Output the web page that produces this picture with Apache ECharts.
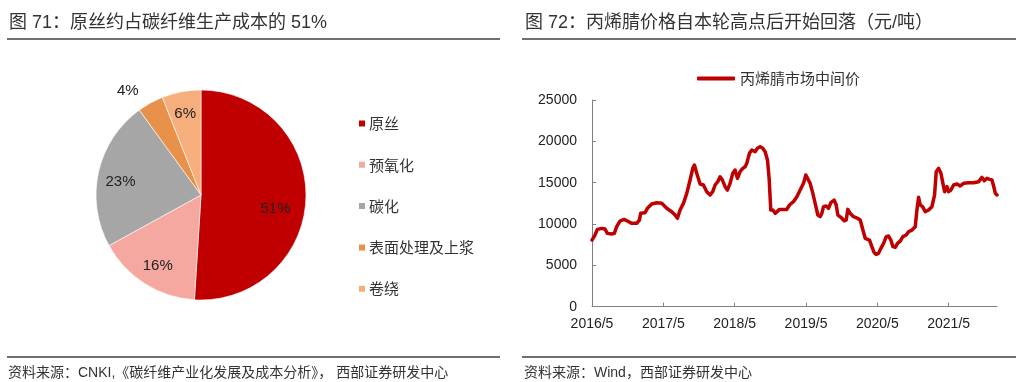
<!DOCTYPE html>
<html><head><meta charset="utf-8">
<script src="https://cdn.jsdelivr.net/npm/echarts@6/dist/echarts.min.js"></script>
<style>html,body{margin:0;padding:0;background:#fff}#c{width:1024px;height:382px}</style>
</head><body><div id="c"></div>
<script>
// ---- Left: pie data ----
const pieNames = ['原丝', '预氧化', '碳化', '表面处理及上浆', '卷绕'];
const pieValues = [51, 16, 23, 4, 6];
const pieColors = ['#C00000', '#F5A8A0', '#A6A6A6', '#E8914A', '#F7AE7D'];

// ---- Right: acrylonitrile price (months since 2016/5, 元/吨) ----
const months = [0,0.5,0.9,1.63,2.19,2.58,3.31,3.76,4.15,4.71,5.39,5.95,6.68,7.52,7.97,8.19,8.92,9.32,10.04,10.89,11.73,12.57,13.41,13.97,14.37,14.81,15.38,15.94,16.5,16.95,17.23,17.62,18.18,18.74,19.3,19.87,20.31,20.71,21.16,21.55,21.94,22.39,22.78,23.23,23.68,24.07,24.47,24.92,25.36,25.76,26.04,26.49,26.88,27.44,27.83,28.28,28.73,29.12,29.52,29.8,30.08,30.42,30.81,31.09,31.54,32.21,32.77,33.22,33.89,34.46,35.02,35.58,35.97,36.25,36.7,37.15,37.54,37.99,38.38,38.66,38.95,39.39,39.79,40.18,40.74,41.08,41.36,41.86,42.42,42.76,43.04,43.43,44.0,44.67,45.12,45.57,45.96,46.69,47.08,47.47,47.81,48.2,48.6,49.05,49.49,49.89,50.28,50.62,51.01,51.4,51.85,52.3,52.86,53.25,53.82,54.38,54.66,54.94,55.22,55.61,56.06,56.62,57.18,57.63,57.91,58.31,58.7,59.03,59.32,59.71,59.99,60.38,60.83,61.39,61.95,62.51,63.36,64.2,65.04,65.6,65.99,66.44,66.89,67.28,67.56,67.85,68.13];
const prices = [8060,8670,9350,9470,9400,8870,8790,8870,9680,10360,10560,10360,10080,10080,10480,11290,11370,11900,12420,12580,12500,11900,11490,11090,10690,11690,12500,13710,15320,16730,17140,16130,14840,14720,13910,13510,13910,14720,15120,15720,15320,14520,14110,14920,16130,16530,15520,16330,16730,16930,17350,18560,18960,18750,19160,19360,19160,18750,17750,15500,11690,11690,11290,11490,11770,11770,11770,12300,12700,13300,14110,14920,15930,16130,14920,13710,12500,11090,10890,11290,12100,12180,11900,12580,12900,12300,11090,10810,10400,10480,11770,11290,10890,10690,10480,9270,8270,8060,7260,6530,6330,6450,7060,7660,8470,8550,8060,7260,7180,7660,7940,8470,8670,9070,9270,9680,11690,13230,12300,12100,11490,11690,12100,13510,16330,16730,16130,14920,13910,14520,13910,14110,14720,14840,14600,14920,15000,15000,15120,15640,15240,15520,15400,15320,14600,13710,13510];
const xTickMonths = [0, 12, 24, 36, 48, 60];
const xTickLabels = ['2016/5', '2017/5', '2018/5', '2019/5', '2020/5', '2021/5'];
const lineName = '丙烯腈市场中间价';

const titleLeft = '图 71：原丝约占碳纤维生产成本的 51%';
const titleRight = '图 72：丙烯腈价格自本轮高点后开始回落（元/吨）';
const srcLeft = '资料来源：CNKI,《碳纤维产业化发展及成本分析》， 西部证券研发中心';
const srcRight = '资料来源：Wind，西部证券研发中心';

const FONT = "'Liberation Sans', 'Noto Sans CJK SC', sans-serif";
const CJK = "'Noto Sans CJK SC', 'Liberation Sans', sans-serif";

// label nudges (styling, px) for the percent labels, same order as pieNames
const labelNudge = [[-10, 11], [2, 0], [2, 5], [0, 0], [0, 2]];

const chart = echarts.init(document.getElementById('c'), null, {renderer: 'canvas'});

const pieData = pieNames.map((n, i) => ({
  name: n, value: pieValues[i], itemStyle: {color: pieColors[i]},
  label: (pieValues[i] < 5) ? {show: true, position: 'outside', formatter: '{c}%'} : {show: false},
  labelLine: {show: false, length: 14, length2: 0}
}));
const pieLabelData = pieNames.map((n, i) => ({
  name: n, value: pieValues[i],
  label: {show: pieValues[i] >= 5, offset: labelNudge[i]}
}));

const line = (x1, y1, x2, y2) => ({type: 'line', shape: {x1, y1, x2, y2}, style: {stroke: '#404040', lineWidth: 1.3}, silent: true});
const txt = (x, y, t, size) => ({type: 'text', x, y, style: {text: t, font: size + 'px ' + FONT, fill: '#333', textVerticalAlign: 'middle'}, silent: true});

chart.setOption({
  animation: false,
  backgroundColor: '#fff',
  graphic: [
    txt(9, 23, titleLeft, 18),
    txt(525, 23, titleRight, 18),
    line(7, 39, 500, 39),
    line(522, 39, 1016, 39),
    line(7, 357, 500, 357),
    line(522, 357, 1016, 357),
    txt(8, 373, srcLeft, 14),
    txt(524, 373, srcRight, 14)
  ],
  legend: [
    {
      data: pieNames, orient: 'vertical', left: 352, top: 111,
      icon: 'rect', itemWidth: 8, itemHeight: 8, itemGap: 26.3,
      textStyle: {fontFamily: CJK, fontSize: 15, color: '#333', lineHeight: 15, padding: [0,0,0,-2]},
      selectedMode: false
    },
    {
      data: [lineName], left: 692, top: 66,
      icon: 'roundRect', itemWidth: 38, itemHeight: 4,
      textStyle: {fontFamily: CJK, fontSize: 15, color: '#333'},
      selectedMode: false
    }
  ],
  grid: {left: 592, right: 27, top: 100, bottom: 75.3, containLabel: false},
  xAxis: {
    type: 'value', min: 0, max: months[months.length - 1], interval: 12,
    splitLine: {show: false},
    axisLine: {show: true, lineStyle: {color: '#808080', width: 1}},
    axisTick: {show: true, inside: true, length: 4, customValues: xTickMonths, lineStyle: {color: '#808080'}},
    axisLabel: {
      customValues: xTickMonths, margin: 10, fontFamily: FONT, fontSize: 14, color: '#222',
      formatter: v => xTickLabels[xTickMonths.indexOf(Math.round(v))] || ''
    }
  },
  yAxis: {
    type: 'value', min: 0, max: 25000, interval: 5000,
    splitLine: {show: false},
    axisLine: {show: true, lineStyle: {color: '#808080', width: 1}},
    axisTick: {show: true, inside: true, length: 4, lineStyle: {color: '#808080'}},
    axisLabel: {margin: 15, fontFamily: FONT, fontSize: 14, color: '#222', formatter: v => String(v)}
  },
  series: [
    {
      type: 'pie', name: 'pie', center: [201, 195], radius: [0, 105],
      startAngle: 90, clockwise: true, silent: true,
      itemStyle: {borderColor: '#fff', borderWidth: 0.6},
      label: {fontFamily: FONT, fontSize: 15, color: '#222'},
      emphasis: {disabled: true},
      data: pieData
    },
    {
      type: 'pie', name: 'pieLabels', center: [201, 195], radius: [58, 105],
      startAngle: 90, clockwise: true, silent: true, legendHoverLink: false,
      itemStyle: {color: 'rgba(0,0,0,0)'},
      label: {show: true, position: 'inside', fontFamily: FONT, fontSize: 15, color: '#222', formatter: '{c}%'},
      labelLine: {show: false},
      emphasis: {disabled: true},
      data: pieLabelData
    },
    {
      type: 'line', name: lineName, showSymbol: false, symbol: 'none',
      lineStyle: {color: '#C00000', width: 3.5, join: 'round', cap: 'round'},
      itemStyle: {color: '#C00000'},
      data: months.map((m, i) => [m, prices[i]])
    }
  ]
});
</script>
</body></html>
